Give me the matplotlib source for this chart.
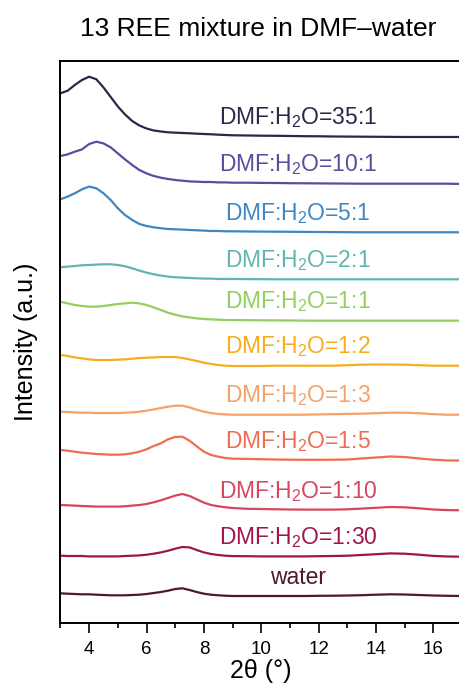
import matplotlib
matplotlib.use('Agg')
import matplotlib.pyplot as plt
from matplotlib.ticker import MultipleLocator

plt.rcParams['font.family'] = ['Liberation Sans', 'DejaVu Sans']
plt.rcParams['mathtext.fontset'] = 'custom'
plt.rcParams['mathtext.rm'] = 'Liberation Sans'

# 2theta sampling (finer where the peaks are)
two_theta = [3.0, 3.25, 3.5, 3.75, 4.0, 4.25, 4.5, 4.75, 5.0, 5.25, 5.5, 5.75,
             6.0, 6.25, 6.5, 6.75, 7.0, 7.25, 7.5, 7.75, 8.0, 8.25, 8.5, 8.75, 9.0,
             9.5, 10.0, 10.5, 11.0, 11.5, 12.0, 12.5, 13.0, 13.5, 14.0, 14.5, 15.0,
             15.5, 16.0, 16.5, 17.0]

# sample names, top to bottom
labels = ['DMF:H$_\\mathregular{2}$O=35:1', 'DMF:H$_\\mathregular{2}$O=10:1',
          'DMF:H$_\\mathregular{2}$O=5:1', 'DMF:H$_\\mathregular{2}$O=2:1',
          'DMF:H$_\\mathregular{2}$O=1:1', 'DMF:H$_\\mathregular{2}$O=1:2',
          'DMF:H$_\\mathregular{2}$O=1:3', 'DMF:H$_\\mathregular{2}$O=1:5',
          'DMF:H$_\\mathregular{2}$O=1:10', 'DMF:H$_\\mathregular{2}$O=1:30',
          'water']

colors = ['#2b2746', '#5e4b9e', '#3f86c2', '#62b5ae', '#92cf5c', '#f6ad1f',
          '#f6a168', '#ef6e4f', '#d7465e', '#a0164c', '#4e1732']

# stacking offsets (a.u.)
offsets = [486, 439.3, 390.7, 343.7, 302.3, 257.3, 208.3, 162.5, 112.7, 66.3, 27]

# intensities above each offset (a.u.)
i_35_1 = [43.7, 46.3, 52, 57, 60.3, 57.7, 49.5, 40, 30.5, 22.5, 16, 11.5,
          8.5, 6.5, 5.5, 4.7, 4.3, 4, 3.7, 3.3, 3, 2.7, 2.3, 2, 1.7,
          1.5, 1.3, 1.2, 1, 0.8, 0.7, 0.5, 0.4, 0.3, 0.2, 0.1, 0, 0, 0, 0, 0]
i_10_1 = [27.7, 29.3, 32, 34.3, 39.7, 42, 40.3, 36.3, 30.3, 24.3, 18.7, 13.7,
          10.3, 7.7, 6, 4.7, 3.7, 3, 2.3, 2, 1.7, 1.7, 1.3, 1.3, 1,
          1, 0.8, 0.7, 0.5, 0.4, 0.3, 0.2, 0.1, 0, 0, 0, 0, 0, 0, 0, -0.3]
i_5_1 = [33, 35.7, 39, 43, 45.7, 44, 39, 32.3, 24, 17.3, 12.3, 8.3,
         6.3, 5, 4, 3.3, 3, 2.7, 2.3, 2, 1.7, 1.3, 1.3, 1, 1,
         0.8, 0.7, 0.6, 0.5, 0.4, 0.3, 0.2, 0.1, 0, 0, 0, 0, 0, 0, 0, 0]
i_2_1 = [12, 12.7, 13.3, 14, 14.3, 14.7, 15, 15, 14.3, 13, 11, 8.7,
         6.7, 5, 3.7, 2.7, 2, 1.7, 1.3, 1, 0.7, 0.7, 0.3, 0.3, 0.3,
         0.2, 0.1, 0, 0, 0, 0, 0, 0, 0, 0, 0, 0, 0, 0, 0, 0]
i_1_1 = [19, 17.3, 15.7, 14.7, 14, 14, 14.7, 15.7, 16.7, 17.3, 18, 17.3,
         15.7, 13.3, 10.7, 8, 6, 4.3, 3.3, 2.3, 1.7, 1.3, 1, 0.7, 0.7,
         0.5, 0.4, 0.3, 0.2, 0.1, 0, 0, 0, 0, 0, 0, 0, 0, 0, 0, 0]
i_1_2 = [10.7, 9.7, 8.3, 7.3, 6.3, 5.7, 5.7, 5.7, 6, 6.3, 7, 7.7,
         8, 8.3, 8.7, 8.7, 8.7, 7.7, 6.3, 4.7, 3, 1.7, 0.7, 0, -0.3,
         -0.3, -0.3, 0, 0, 0, 0, 0, 0.5, 1, 1.2, 1.2, 1, 0.5, 0, 0, 0]
i_1_3 = [3, 2.7, 2.3, 2, 2, 1.7, 1.7, 1.7, 1.7, 2, 2.3, 3,
         4, 5.3, 6.7, 8, 9, 9, 7.3, 5, 3, 1.7, 0.7, 0.3, 0,
         0, 0, 0, 0, 0, 0.3, 0.5, 0.8, 1, 1.5, 2, 2, 1.5, 0.5, 0, 0]
i_1_5 = [10.5, 9.8, 8.8, 7.8, 7.2, 6.5, 6.2, 5.8, 5.8, 6.2, 7.2, 8.8,
         11.2, 14.5, 17.2, 21.2, 23.5, 23.8, 19.8, 14.2, 8.8, 5.5, 3.8, 2.5, 1.8,
         1.6, 1.3, 1, 0.8, 0.7, 0.7, 0.8, 1, 2, 3, 4, 3.5, 2, 0.8, 0, 0]
i_1_10 = [5.3, 5, 4.7, 4.3, 4, 3.7, 3.7, 3.7, 3.7, 4, 4.7, 5.3,
          6.3, 8, 10, 12.3, 14.7, 16.3, 14.3, 11, 7.7, 5.3, 4, 3, 2.3,
          1.5, 1.3, 1, 0.8, 0.7, 0.7, 0.7, 1, 1.7, 2.5, 3.3, 3, 2, 0.8, 0.2, 0]
i_1_30 = [1, 0.7, 0.7, 0.7, 0.3, 0.3, 0.3, 0.3, 0.3, 0.7, 1, 1.3,
          2, 3, 4.3, 6, 8, 9.7, 9.3, 6.7, 4.3, 2.7, 1.7, 1, 0.6,
          0.5, 0.3, 0.3, 0.3, 0.3, 0.5, 0.7, 1, 1.7, 2.5, 3.3, 3, 2, 0.8, 0.2, 0]
i_water = [2.7, 2.3, 2, 1.7, 1.7, 1.3, 1, 0.7, 0.7, 0.7, 1, 1.3,
           2, 3, 4, 5.3, 7, 7.7, 6, 4, 2.3, 1.3, 0.7, 0.3, 0,
           0, 0, 0, 0, 0, 0.2, 0.3, 0.5, 0.8, 1.3, 1.7, 1.5, 1, 0.5, 0.2, 0]

curves = [i_35_1, i_10_1, i_5_1, i_2_1, i_1_1, i_1_2, i_1_3, i_1_5,
          i_1_10, i_1_30, i_water]

fig = plt.figure(figsize=(4.59, 6.93), dpi=100)
ax = fig.add_axes([0.1318, 0.101, 0.8747, 0.811])

for name, ys, off, c in zip(labels, curves, offsets, colors):
    ax.plot(two_theta, [v + off for v in ys], color=c, lw=1.6, solid_joinstyle='round')
    ax.text(11.28, off + 19, name, color=c, fontsize=16.5, ha='center', va='center')

ax.set_xlim(3, 17)
ax.set_ylim(0, 562)
ax.set_yticks([])
ax.xaxis.set_major_locator(MultipleLocator(2))
ax.xaxis.set_minor_locator(MultipleLocator(1))
ax.tick_params(axis='x', which='major', direction='out', length=7, width=1.2,
               labelsize=13.5, pad=6)
ax.tick_params(axis='x', which='minor', direction='out', length=3.6, width=1.2)
for s in ax.spines.values():
    s.set_linewidth(1.4)

ax.set_xlabel('2θ (°)', fontsize=18, labelpad=1)
ax.set_ylabel('Intensity (a.u.)', fontsize=18, labelpad=16)
fig.text(0.562, 0.9485, '13 REE mixture in DMF–water', fontsize=19,
         ha='center', va='baseline')

fig.savefig('out.png', dpi=100)
